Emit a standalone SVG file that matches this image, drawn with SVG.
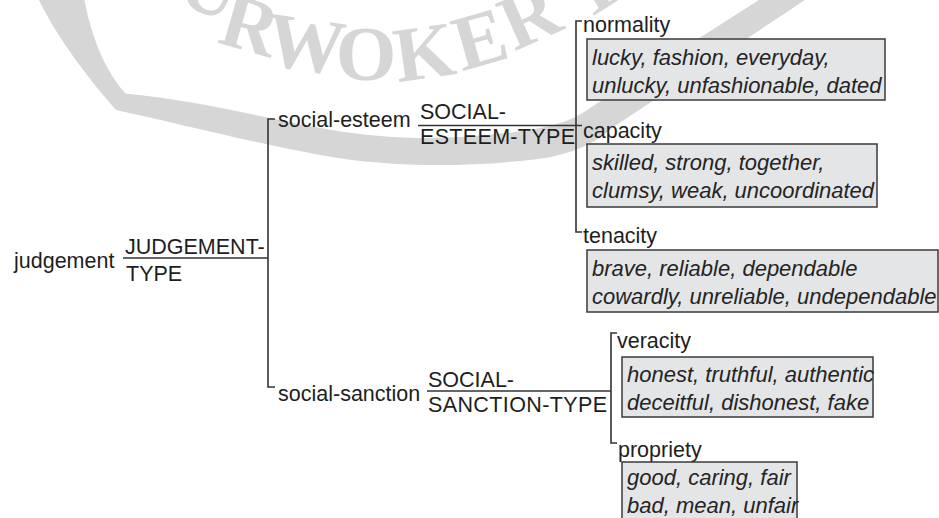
<svg xmlns="http://www.w3.org/2000/svg" width="939" height="518" viewBox="0 0 939 518">
  <style>
    .lbl{font-family:"Liberation Sans",Arial,sans-serif;font-size:21.5px;fill:#1e1e1e}
    .ex{font-family:"Liberation Sans",Arial,sans-serif;font-size:22px;font-style:italic;fill:#242424}
    .box{fill:#e4e5e7;stroke:#3a3a3a;stroke-width:1.5}
    .ln{stroke:#333;stroke-width:1.6;fill:none}
    .wm{fill:#d6d6d6}
    .wmt{font-family:"Liberation Serif","Times New Roman",serif;font-size:78px;font-weight:bold;fill:#d6d6d6;text-anchor:middle}
  </style>

  <rect width="939" height="518" fill="#fff"/>

  <!-- background seal ribbon -->
  <g id="watermark">
    <path class="wm" d="M38,-2 L84,-2 C92,40 106,72 126,94 L116,110 C90,80 58,40 38,-2 Z"/>
    <path class="wm" d="M118,93 C200,100 262,118 332,130 C402,142 472,140 540,128 C562,124 576,118 590,108 L762,-2 L808,-2 L612,128 C590,148 560,158 520,161 C450,168 380,166 320,155 C250,142 180,124 116,110 Z"/>
    <text class="wmt" transform="translate(200,12) rotate(25)">U</text>
    <text class="wmt" transform="translate(243,50) rotate(16)">R</text>
    <text class="wmt" transform="translate(302,70) rotate(8)">W</text>
    <text class="wmt" transform="translate(366,80) rotate(0)">O</text>
    <text class="wmt" transform="translate(428,78) rotate(-8)">K</text>
    <text class="wmt" transform="translate(487,64) rotate(-16)">E</text>
    <text class="wmt" transform="translate(540,40) rotate(-24)">R</text>
    <text class="wmt" transform="translate(606,8) rotate(-32)">T</text>
  </g>

  <!-- connectors -->
  <g id="connectors">
    <!-- judgement system -->
    <path class="ln" d="M123,258 H268"/>
    <path class="ln" d="M275,119 H268 V387 H275"/>
    <!-- social-esteem system -->
    <path class="ln" d="M418,125.5 H582"/>
    <path class="ln" d="M582,21 H576 V232 H582"/>
    <!-- social-sanction system -->
    <path class="ln" d="M427,391 H611"/>
    <path class="ln" d="M617,333 H611 V443 H617"/>
  </g>

  <g id="judgement">
    <text class="lbl" x="14" y="268">judgement</text>
    <text class="lbl" x="125" y="254">JUDGEMENT-</text>
    <text class="lbl" x="126" y="281">TYPE</text>
  </g>

  <g id="social-esteem">
    <text class="lbl" x="278" y="127">social-esteem</text>
    <text class="lbl" x="420" y="119">SOCIAL-</text>
    <text class="lbl" x="420" y="144" textLength="155">ESTEEM-TYPE</text>
  </g>

  <g id="social-sanction">
    <text class="lbl" x="278" y="401">social-sanction</text>
    <text class="lbl" x="428" y="387">SOCIAL-</text>
    <text class="lbl" x="428" y="412" textLength="179">SANCTION-TYPE</text>
  </g>

  <g id="normality">
    <text class="lbl" x="583" y="32">normality</text>
    <rect class="box" x="587" y="39" width="298" height="61"/>
    <text class="ex" x="592" y="65">lucky, fashion, everyday,</text>
    <text class="ex" x="592" y="93">unlucky, unfashionable, dated</text>
  </g>

  <g id="capacity">
    <text class="lbl" x="583" y="138">capacity</text>
    <rect class="box" x="587" y="144" width="290" height="63"/>
    <text class="ex" x="592" y="170">skilled, strong, together,</text>
    <text class="ex" x="592" y="198">clumsy, weak, uncoordinated</text>
  </g>

  <g id="tenacity">
    <text class="lbl" x="583" y="243">tenacity</text>
    <rect class="box" x="587" y="250" width="351" height="62"/>
    <text class="ex" x="592" y="276">brave, reliable, dependable</text>
    <text class="ex" x="592" y="304">cowardly, unreliable, undependable</text>
  </g>

  <g id="veracity">
    <text class="lbl" x="617" y="348">veracity</text>
    <rect class="box" x="622" y="357" width="251" height="60"/>
    <text class="ex" x="627" y="382">honest, truthful, authentic</text>
    <text class="ex" x="627" y="410">deceitful, dishonest, fake</text>
  </g>

  <g id="propriety">
    <text class="lbl" x="618" y="457">propriety</text>
    <rect class="box" x="622" y="462" width="175" height="70"/>
    <text class="ex" x="627" y="485">good, caring, fair</text>
    <text class="ex" x="627" y="513">bad, mean, unfair</text>
  </g>
</svg>
